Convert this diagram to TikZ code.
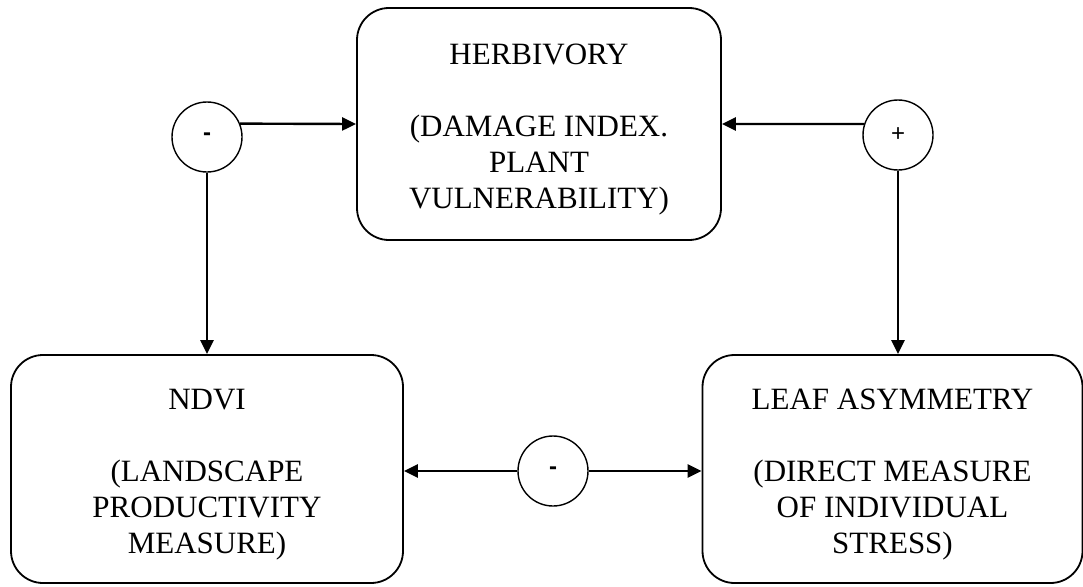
\documentclass[tikz,border=0pt]{standalone}
\usepackage{fontspec}
\setmainfont{Liberation Serif}
\newfontfamily\signfont{Liberation Sans}
\usetikzlibrary{arrows.meta}
\begin{document}
\begin{tikzpicture}[x=1pt,y=-1pt,
  box/.style={draw,line width=1.8pt,rounded corners=32pt,align=center,
    font=\fontsize{31}{36}\selectfont,inner sep=0pt},
  sign/.style={draw,circle,line width=1.4pt,minimum size=70pt,inner sep=0pt,
    font=\signfont\fontsize{24}{26}\selectfont},
  conn/.style={line width=2.4pt},
  arr/.style={conn,-{Triangle[length=14pt,width=13pt]}}]
\useasboundingbox (0,0) rectangle (1083,586);
\node[box,minimum width=364pt,minimum height=232pt] (herb) at (539,124)
  {\\[-4pt]HERBIVORY\\[36pt](DAMAGE INDEX.\\PLANT\\VULNERABILITY)};
\node[box,minimum width=392pt,minimum height=228pt] (ndvi) at (207,469)
  {\\[-4pt]NDVI\\[36pt](LANDSCAPE\\PRODUCTIVITY\\MEASURE)};
\node[box,minimum width=380pt,minimum height=228pt] (leaf) at (892.5,469)
  {\\[-4pt]LEAF ASYMMETRY\\[36pt](DIRECT MEASURE\\OF INDIVIDUAL\\STRESS)};
\node[sign] (c1) at (207,137) {\bfseries -};
\node[sign] (c2) at (898,135) {+};
\node[sign] (c3) at (553,471) {\bfseries -};
\draw[arr] (c1.22) -- (herb.west);
\draw[arr] (c2.162) -- (herb.east);
\draw[arr] (c1.south) -- (ndvi.north);
\draw[arr] (c2.south) -- (c2.south |- leaf.north);
\draw[arr] (c3.west) -- (c3.west -| ndvi.east);
\draw[arr] (c3.east) -- (c3.east -| leaf.west);
\end{tikzpicture}
\end{document}
